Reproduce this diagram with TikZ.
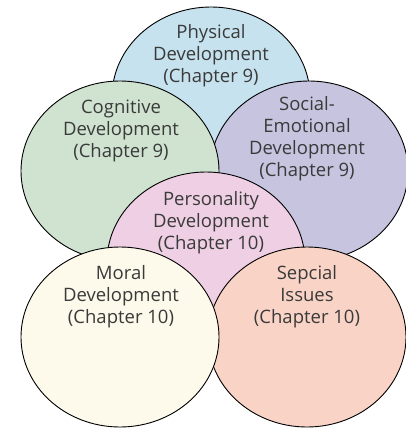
\documentclass[tikz,border=0pt]{standalone}
\usepackage{fontspec}
\setmainfont{Open Sans}
\definecolor{cphys}{HTML}{C6E2EE}
\definecolor{ccog}{HTML}{CFE3D0}
\definecolor{csoc}{HTML}{C7C4E0}
\definecolor{cpers}{HTML}{EECFE3}
\definecolor{cmoral}{HTML}{FDF9EB}
\definecolor{cspec}{HTML}{F9D3C6}
\definecolor{ctext}{HTML}{3A3A3A}
\tikzset{
  blob/.style={draw=black, line width=0.9pt, ellipse, minimum width=198pt, minimum height=180pt, inner sep=0pt},
  lbl/.style={align=center, text=ctext, font=\fontsize{18.5}{22}\selectfont, inner sep=0pt, anchor=north}
}
\usetikzlibrary{shapes.geometric}
\begin{document}
\begin{tikzpicture}[x=1pt,y=-1pt]
\useasboundingbox (0,0) rectangle (406,429);
\node[blob, fill=cphys] (phys) at (211,97) {};
\node[blob, fill=csoc] (soc) at (309,171) {};
\node[blob, fill=ccog] (cog) at (120,171) {};
\node[blob, fill=cpers] (pers) at (206,262) {};
\node[blob, fill=cspec] (spec) at (307,337) {};
\node[blob, fill=cmoral] (moral) at (120,337) {};
\node[lbl] (tphys) at (211,24) {Physical\\Development\\(Chapter 9)};
\node[lbl] (tcog) at (121,100) {Cognitive\\Development\\(Chapter 9)};
\node[lbl] (tsoc) at (307,96) {Social-\\Emotional\\Development\\(Chapter 9)};
\node[lbl] (tpers) at (211,191) {Personality\\Development\\(Chapter 10)};
\node[lbl] (tmoral) at (121,265) {Moral\\Development\\(Chapter 10)};
\node[lbl] (tspec) at (307,265) {Sepcial\\Issues\\(Chapter 10)};
\end{tikzpicture}
\end{document}
